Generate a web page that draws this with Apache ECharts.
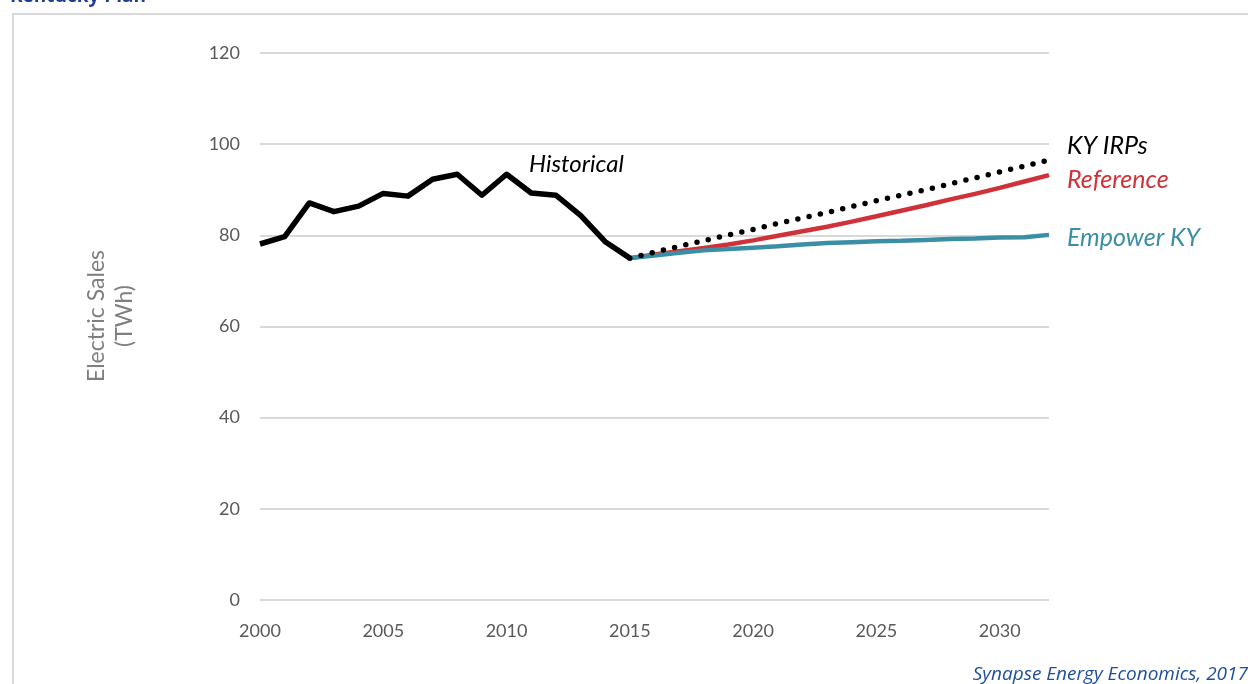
<!DOCTYPE html>
<html lang="en">
<head>
    <meta charset="UTF-8">
    <title>Kentucky Plan</title>
    <script src="https://cdn.jsdelivr.net/npm/echarts@6/dist/echarts.min.js"></script>
    <style>
        html, body { margin: 0; padding: 0; background: #fff; }
        #main { width: 1248px; height: 684px; }
    </style>
</head>
<body>
    <div id="main"></div>

    <script type="text/javascript">
        // 历史数据 (TWh)
        var histYears = [2000, 2001, 2002, 2003, 2004, 2005, 2006, 2007, 2008, 2009, 2010, 2011, 2012, 2013, 2014, 2015];
        var historical = [78.1, 79.7, 87.1, 85.2, 86.4, 89.2, 88.6, 92.3, 93.4, 88.8, 93.4, 89.3, 88.8, 84.4, 78.6, 75.0];

        // 预测数据
        var projYears = [2015, 2016, 2017, 2018, 2019, 2020, 2021, 2022, 2023, 2024, 2025, 2026, 2027, 2028, 2029, 2030, 2031, 2032];
        var kyIrps    = [75.0, 76.3, 77.6, 78.8, 80.1, 81.3, 82.6, 83.8, 85.0, 86.3, 87.6, 88.8, 90.0, 91.3, 92.6, 93.9, 95.2, 96.5];
        var reference = [75.0, 75.8, 76.5, 77.2, 78.0, 78.9, 79.9, 80.9, 81.9, 83.0, 84.2, 85.4, 86.6, 87.9, 89.1, 90.4, 91.8, 93.2];
        var empowerKy = [75.0, 75.6, 76.2, 76.7, 77.0, 77.3, 77.6, 78.0, 78.3, 78.5, 78.7, 78.8, 79.0, 79.2, 79.3, 79.5, 79.6, 80.1];

        var yTicks = [0, 20, 40, 60, 80, 100, 120];

        function pairs(xs, ys) {
            return ys.map(function (v, i) { return [xs[i], v]; });
        }

        var RED = '#cf3339';
        var TEAL = '#3b8fa5';
        var labelFont = 'Lato, "Open Sans", sans-serif';

        var myChart = echarts.init(document.getElementById('main'));
        var option = {
            animation: false,
            backgroundColor: '#ffffff',
            grid: { left: 260, right: 199, top: 53, bottom: 84 },
            xAxis: {
                type: 'value',
                min: 2000,
                max: 2032,
                interval: 5,
                axisLine: { show: false },
                axisTick: { show: false },
                splitLine: { show: false },
                axisLabel: {
                    color: '#595959',
                    fontSize: 18,
                    fontFamily: labelFont,
                    margin: 22,
                    showMaxLabel: false,
                    formatter: function (v) { return String(v); }
                }
            },
            yAxis: {
                type: 'value',
                min: yTicks[0],
                max: yTicks[yTicks.length - 1],
                interval: 20,
                axisLine: { show: false },
                axisTick: { show: false },
                splitLine: { lineStyle: { color: '#d9d9d9', width: 2 } },
                axisLabel: {
                    color: '#595959',
                    fontSize: 18,
                    fontFamily: labelFont,
                    margin: 20
                }
            },
            graphic: [
                {
                    type: 'rect',
                    shape: { x: 13, y: 14, width: 1260, height: 700 },
                    style: { fill: 'none', stroke: '#d9d9d9', lineWidth: 2 },
                    silent: true
                },
                {
                    type: 'text',
                    left: 10,
                    top: -13,
                    style: {
                        text: 'Kentucky Plan',
                        fill: '#1f3f95',
                        font: 'bold 19px "Open Sans", sans-serif'
                    }
                },
                {
                    type: 'text',
                    x: 111,
                    y: 316,
                    rotation: Math.PI / 2,
                    style: {
                        text: 'Electric Sales\n(TWh)',
                        fill: '#7f7f7f',
                        font: '23px ' + labelFont,
                        align: 'center',
                        verticalAlign: 'middle',
                        lineHeight: 28
                    }
                },
                {
                    type: 'text',
                    x: 529,
                    y: 164,
                    style: {
                        text: 'Historical',
                        fill: '#000',
                        font: 'italic 24px ' + labelFont,
                        verticalAlign: 'middle'
                    }
                },
                {
                    type: 'text',
                    right: 0,
                    bottom: 0,
                    style: {
                        text: 'Synapse Energy Economics, 2017',
                        fill: '#1f4e9a',
                        font: 'italic 19px "Open Sans", sans-serif'
                    }
                }
            ],
            series: [
                {
                    name: 'Historical',
                    type: 'line',
                    data: pairs(histYears, historical),
                    showSymbol: false,
                    lineStyle: { color: '#000', width: 5.5, join: 'round' },
                    z: 2
                },
                {
                    name: 'Reference',
                    type: 'line',
                    data: pairs(projYears, reference),
                    showSymbol: false,
                    lineStyle: { color: RED, width: 4.5 },
                    endLabel: {
                        show: true,
                        formatter: 'Reference',
                        color: RED,
                        fontSize: 25,
                        fontStyle: 'italic',
                        fontFamily: labelFont,
                        distance: 18,
                        offset: [0, 5]
                    },
                    z: 3
                },
                {
                    name: 'Empower KY',
                    type: 'line',
                    data: pairs(projYears, empowerKy),
                    showSymbol: false,
                    lineStyle: { color: TEAL, width: 4.5 },
                    endLabel: {
                        show: true,
                        formatter: 'Empower KY',
                        color: TEAL,
                        fontSize: 25,
                        fontStyle: 'italic',
                        fontFamily: labelFont,
                        distance: 18,
                        offset: [0, 3]
                    },
                    z: 4
                },
                {
                    name: 'KY IRPs',
                    type: 'line',
                    data: pairs(projYears, kyIrps),
                    showSymbol: false,
                    lineStyle: { color: '#000', width: 5.5, type: [0, 11.5], cap: 'round' },
                    endLabel: {
                        show: true,
                        formatter: 'KY IRPs',
                        color: '#000',
                        fontSize: 25,
                        fontStyle: 'italic',
                        fontFamily: labelFont,
                        distance: 18,
                        offset: [0, -14]
                    },
                    z: 5
                }
            ]
        };
        myChart.setOption(option);
    </script>
</body>
</html>
